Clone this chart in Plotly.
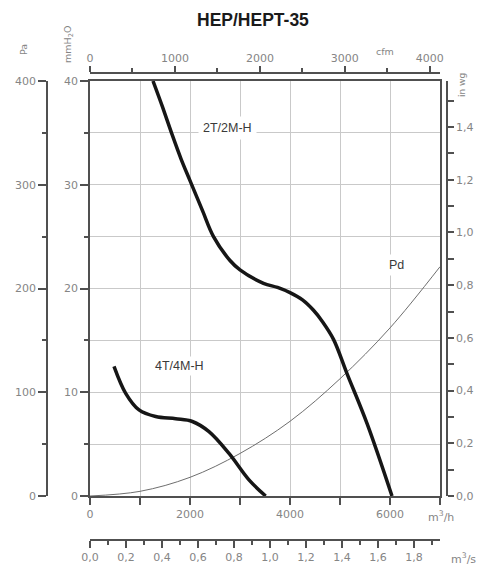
import plotly.graph_objects as go

# ---- data ----
Q_2T = [1260, 1450, 1630, 1820, 2000, 2250, 2470, 2800, 3000, 3470, 3750, 4000, 4250, 4470, 4650, 4870, 5140, 5540, 6040]
P_2T = [400, 375, 350, 325, 304, 275, 250, 227, 218, 205, 201, 196, 189, 179, 168, 151, 118, 70, 0]

Q_4T = [480, 714, 980, 1313, 1713, 2047, 2380, 2780, 3180, 3513]
P_4T = [125, 99, 83, 76.6, 74.4, 71.8, 62, 41, 15.5, 0]

Q_PD = [0, 1000, 2000, 3000, 4000, 5000, 6000, 7000]
P_PD = [0, 4.5, 18, 41, 72, 113, 162, 221]

X_TICKS = [0, 2000, 4000, 6000]
PA_TICKS = [0, 100, 200, 300, 400]
MMH2O_TEXT = ["0", "10", "20", "30", "40"]
INWG_TICKS = [0, 0.2, 0.4, 0.6, 0.8, 1.0, 1.2, 1.4]
INWG_TEXT = ["0,0", "0,2", "0,4", "0,6", "0,8", "1,0", "1,2", "1,4"]
M3S_TICKS = [0, 0.2, 0.4, 0.6, 0.8, 1.0, 1.2, 1.4, 1.6, 1.8]
M3S_TEXT = ["0,0", "0,2", "0,4", "0,6", "0,8", "1,0", "1,2", "1,4", "1,6", "1,8"]
CFM_TICKS = [0, 1000, 2000, 3000, 4000]

X_MAX = 7000
Y_MAX = 400
CFM_PER_M3H = 0.5886
PA_PER_INWG = 254.0

# ---- geometry (screen pixels; page body has an 8px margin) ----
OFF = 8
W, H = 485 - OFF, 567 - OFF
PL, PR, PT, PB = 47, 447, 73, 540          # paper area (screen px)
AX_L, AX_R, AX_T, AX_B = 90, 440, 81, 496  # main plot box (screen px)

def px(x):
    return (x - PL) / (PR - PL)

def py(y):
    return (PB - y) / (PB - PT)

AXC = "#505050"
GRID = "#c9c9c9"
TXT = "#858585"
FONT = "DejaVu Sans"
tf = dict(family=FONT, size=11, color=TXT)

fig = go.Figure()
fig.add_trace(go.Scatter(x=Q_PD, y=P_PD, mode="lines", line=dict(color="#6e6e6e", width=1, shape="spline"),
                         hoverinfo="skip", showlegend=False))
fig.add_trace(go.Scatter(x=Q_2T, y=P_2T, mode="lines", line=dict(color="#161616", width=3.5, shape="spline", smoothing=1),
                         showlegend=False))
fig.add_trace(go.Scatter(x=Q_4T, y=P_4T, mode="lines", line=dict(color="#161616", width=3.5, shape="spline", smoothing=1),
                         showlegend=False))
# invisible anchors for secondary axes
for xa, ya in [("x2", "y"), ("x3", "y"), ("x", "y2"), ("x", "y3")]:
    fig.add_trace(go.Scatter(x=[0], y=[0], xaxis=xa, yaxis=ya, mode="markers", marker=dict(opacity=0),
                             hoverinfo="skip", showlegend=False))

xdom = [px(AX_L), px(AX_R)]
ydom = [py(AX_B), py(AX_T)]

fig.update_layout(
    width=W, height=H,
    margin=dict(l=PL - OFF, r=W - (PR - OFF), t=PT - OFF, b=H - (PB - OFF), pad=0, autoexpand=False),
    paper_bgcolor="white", plot_bgcolor="white",
    font=dict(family=FONT, size=11, color=TXT),
    showlegend=False,
    xaxis=dict(domain=xdom, anchor="y", range=[0, X_MAX], tickvals=X_TICKS,
               ticks="outside", ticklen=7, tickwidth=1.5, tickcolor=AXC,
               showline=True, linecolor=AXC, linewidth=1.8, mirror=True,
               showgrid=True, gridcolor=GRID, gridwidth=1, zeroline=False,
               minor=dict(dtick=1000, tick0=0, ticks="outside", ticklen=7, tickwidth=1.5, tickcolor=AXC,
                          showgrid=True, gridcolor=GRID, gridwidth=1),
               tickfont=tf, fixedrange=True),
    xaxis2=dict(overlaying="x", anchor="free", position=1, side="top", domain=xdom,
                range=[0, X_MAX * CFM_PER_M3H], tickvals=CFM_TICKS,
                ticks="outside", ticklen=6, tickwidth=1.5, tickcolor=AXC,
                showline=True, linecolor=AXC, linewidth=1.8, showgrid=False, zeroline=False,
                minor=dict(dtick=500, tick0=0, ticks="outside", ticklen=4, tickwidth=1.5, tickcolor=AXC, showgrid=False),
                tickfont=tf, fixedrange=True),
    xaxis3=dict(overlaying="x", anchor="free", position=0, side="bottom", domain=xdom,
                range=[0, X_MAX / 3600], tickmode="array", tickvals=M3S_TICKS, ticktext=M3S_TEXT,
                ticks="outside", ticklen=7, tickwidth=1.5, tickcolor=AXC,
                showline=True, linecolor=AXC, linewidth=1.8, showgrid=False, zeroline=False,
                minor=dict(dtick=0.1, tick0=0, ticks="outside", ticklen=4, tickwidth=1.5, tickcolor=AXC, showgrid=False),
                tickfont=tf, fixedrange=True),
    yaxis=dict(domain=ydom, anchor="x", range=[0, Y_MAX], tickvals=PA_TICKS, ticktext=MMH2O_TEXT,
               ticks="outside", ticklen=8, tickwidth=1.5, tickcolor=AXC,
               showline=True, linecolor=AXC, linewidth=1.8, mirror=True,
               showgrid=True, gridcolor=GRID, gridwidth=1, zeroline=False,
               minor=dict(dtick=50, tick0=0, ticks="outside", ticklen=4, tickwidth=1.5, tickcolor=AXC,
                          showgrid=True, gridcolor=GRID, gridwidth=1),
               tickfont=tf, fixedrange=True),
    yaxis2=dict(overlaying="y", anchor="free", position=0, side="left", domain=ydom,
                range=[0, Y_MAX], tickvals=PA_TICKS,
                ticks="outside", ticklen=8, tickwidth=1.5, tickcolor=AXC,
                showline=True, linecolor=AXC, linewidth=1.8, showgrid=False, zeroline=False,
                minor=dict(dtick=50, tick0=0, ticks="outside", ticklen=4, tickwidth=1.5, tickcolor=AXC, showgrid=False),
                tickfont=tf, fixedrange=True),
    yaxis3=dict(overlaying="y", anchor="free", position=1, side="right", domain=ydom,
                range=[0, Y_MAX / PA_PER_INWG], tickmode="array", tickvals=INWG_TICKS, ticktext=INWG_TEXT,
                ticks="outside", ticklen=6, tickwidth=1.5, tickcolor=AXC,
                showline=True, linecolor=AXC, linewidth=1.8, showgrid=False, zeroline=False,
                minor=dict(dtick=0.1, tick0=0, ticks="outside", ticklen=6, tickwidth=1.5, tickcolor=AXC, showgrid=False),
                tickfont=tf, fixedrange=True),
)

ann = []
C = dict(xanchor="center", yanchor="middle", showarrow=False)
# curve labels
lab = dict(family="Liberation Sans", size=12.5, color="#3a3a3a")
ann.append(dict(x=2740, y=355, xref="x", yref="y", text="2T/2M-H", font=lab, bgcolor="white", borderpad=4, **C))
ann.append(dict(x=1780, y=125, xref="x", yref="y", text="4T/4M-H", font=lab, bgcolor="white", borderpad=2, **C))
ann.append(dict(x=6130, y=223, xref="x", yref="y", text="Pd", font=lab, bgcolor="white", borderpad=3, **C))
# title
ann.append(dict(x=px(253), y=py(20), xref="paper", yref="paper", text="<b>HEP/HEPT-35</b>",
                font=dict(family="Liberation Sans", size=17.5, color="#1a1a1a"), **C))
# unit labels
ann.append(dict(x=px(441), y=py(516), xref="paper", yref="paper", text="m<sup>3</sup>/h",
                font=dict(family=FONT, size=11, color=TXT), **C))
ann.append(dict(x=px(463), y=py(558), xref="paper", yref="paper", text="m<sup>3</sup>/s",
                font=dict(family=FONT, size=11, color=TXT), **C))
ann.append(dict(x=px(385), y=py(51), xref="paper", yref="paper", text="cfm",
                font=dict(family=FONT, size=9.5, color=TXT), **C))
ann.append(dict(x=px(23), y=py(50), xref="paper", yref="paper", text="Pa", textangle=-90,
                font=dict(family=FONT, size=9.5, color=TXT), **C))
ann.append(dict(x=px(68), y=py(45), xref="paper", yref="paper", text="mmH<sub>2</sub>O", textangle=-90,
                font=dict(family=FONT, size=9.5, color=TXT), **C))
ann.append(dict(x=px(462), y=py(85), xref="paper", yref="paper", text="in wg", textangle=-90,
                font=dict(family=FONT, size=9, color=TXT), **C))
fig.update_layout(annotations=ann)

fig.write_html("out.html")
